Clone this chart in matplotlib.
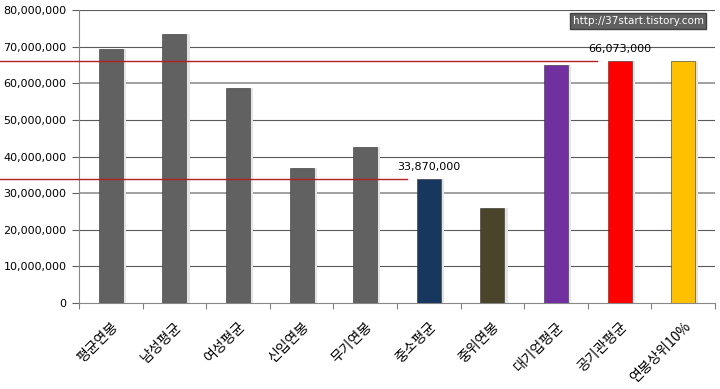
import matplotlib
matplotlib.use("Agg")
import matplotlib.pyplot as plt
import matplotlib.transforms as mtrans
from matplotlib.ticker import FuncFormatter

plt.rcParams['font.family'] = ['DejaVu Sans', 'Noto Sans CJK KR']

categories = ['평균연봉', '남성평균', '여성평균', '신입연봉', '무기연봉',
              '중소평균', '중위연봉', '대기업평균', '공기관평균', '연봉상위10%']
values = [69300000, 73400000, 58700000, 36900000, 42600000,
          33870000, 26000000, 65000000, 66073000, 66073000]
colors = ['#616161', '#616161', '#616161', '#616161', '#616161',
          '#17375E', '#4A452A', '#7030A0', '#FF0000', '#FFC000']
ref_values = [33870000, 66073000]
ref_labels = ['33,870,000', '66,073,000']
ref_idx = [5, 8]
yticks = list(range(0, 80000001, 10000000))

fig = plt.figure(figsize=(7.2, 3.89), dpi=100)
ax = fig.add_axes([79/720, 1-303/389, 636/720, 293/389])

x = list(range(len(categories)))
# faint shadow
ax.bar([i + 0.05 for i in x], values, width=0.38, color='#e4e4e4', zorder=2)
ax.bar(x, values, width=0.38, color=colors, edgecolor='#333333', linewidth=0.4, zorder=3)

ax.set_xlim(-0.5, 9.5)
ax.set_ylim(0, 80000000)
ax.set_yticks(yticks)
ax.yaxis.set_major_formatter(FuncFormatter(lambda v, p: f'{int(v):,}'))
for v in yticks[1:]:
    c = '#a0a0a0' if v in (30000000, 60000000) else '#5a5a5a'
    lw = 1.4 if v in (30000000, 60000000) else 0.8
    ax.axhline(v, color=c, linewidth=lw, zorder=1)

ax.set_xticks([i + 0.5 for i in range(-1, 10)], minor=False)
ax.set_xticklabels([])
ax.tick_params(axis='x', which='major', length=4, color='#808080', direction='out')
ax.set_xticks(x, minor=True)
ax.set_xticklabels(categories, minor=True, rotation=45, ha='right',
                   rotation_mode='anchor', fontsize=10, family=['Noto Sans CJK KR'])
ax.tick_params(axis='x', which='minor', length=0, pad=12)
ax.tick_params(axis='y', length=5, color='#606060', labelsize=8, pad=4)

for s in ['top', 'right']:
    ax.spines[s].set_visible(False)
ax.spines['left'].set_color('#888888')
ax.spines['bottom'].set_color('#888888')

trans = mtrans.blended_transform_factory(fig.transFigure, ax.transData)
for rv, lab, idx in zip(ref_values, ref_labels, ref_idx):
    xe = ax.transData.transform((idx - 0.35, 0))[0] / fig.dpi / 7.2
    ax.plot([0, xe], [rv, rv], color='#B22222', linewidth=1.0, transform=trans,
            clip_on=False, zorder=4)
    ax.text(idx, rv + 2000000, lab, ha='center', va='bottom', fontsize=8, zorder=5)

fig.text(638/720, 1-21/389, 'http://37start.tistory.com', ha='center', va='center',
         color='white', fontsize=7.5,
         bbox=dict(boxstyle='square,pad=0.25', facecolor='#606060', edgecolor='#404040'))

fig.savefig('out.png', dpi=100)
